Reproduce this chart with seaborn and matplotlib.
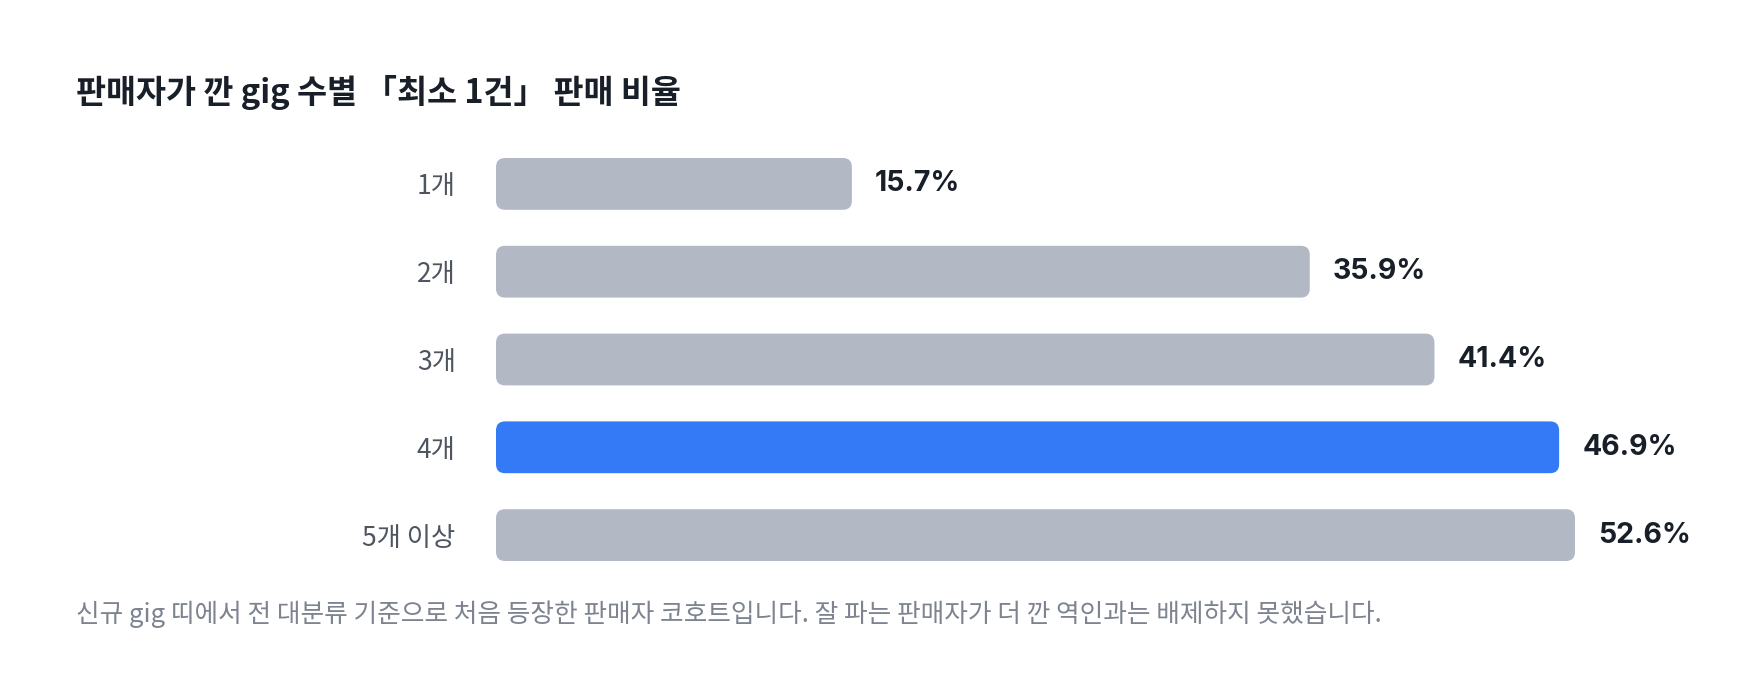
import matplotlib
matplotlib.use("Agg")
import matplotlib.pyplot as plt
from matplotlib.patches import FancyBboxPatch
import seaborn as sns
import pandas as pd

categories = ["1개", "2개", "3개", "4개", "5개 이상"]
values = [15.7, 35.9, 41.4, 46.9, 52.6]
highlight = "4개"
title = "판매자가 깐 gig 수별 「최소 1건」 판매 비율"
footnote = "신규 gig 띠에서 전 대분류 기준으로 처음 등장한 판매자 코호트입니다. 잘 파는 판매자가 더 깐 역인과는 배제하지 못했습니다."
x_max = 47.6  # clamped scale domain

GRAY = "#b2b9c4"
BLUE = "#3479f6"

sns.set_theme(style="white")
plt.rcParams['font.family'] = ['Noto Sans CJK KR', 'DejaVu Sans']

df = pd.DataFrame({"cat": categories, "val": values})
palette = {c: (BLUE if c == highlight else GRAY) for c in categories}

W, H, DPI = 1760, 696, 100
fig = plt.figure(figsize=(W / DPI, H / DPI), dpi=DPI)
fig.patch.set_facecolor("white")
left, right = 496 / W, 1575 / W
top_px, bot_px = 140, 579
ax = fig.add_axes([left, 1 - bot_px / H, right - left, (bot_px - top_px) / H])

sns.barplot(data=df, y="cat", x="val", hue="cat", palette=palette,
            order=categories, orient="h", width=0.59, saturation=1,
            legend=False, ax=ax)
ax.set_xlim(0, x_max)
ax.set_ylim(len(categories) - 0.5, -0.5)

# pixel scales for rounded corners
px_per_x = (ax.transData.transform((1, 0))[0] - ax.transData.transform((0, 0))[0])
px_per_y = abs(ax.transData.transform((0, 1))[1] - ax.transData.transform((0, 0))[1])
radius_px = 9

for p in list(ax.patches):
    x0, y0, w, h = p.get_x(), p.get_y(), p.get_width(), p.get_height()
    w = min(w, x_max)  # clamp like the reference scale
    fc = p.get_facecolor()
    p.remove()
    r = radius_px / px_per_x
    fp = FancyBboxPatch((x0, y0), w, h,
                        boxstyle=f"round,pad=0,rounding_size={r}",
                        mutation_aspect=px_per_x / px_per_y,
                        facecolor=fc, edgecolor="none", clip_on=False)
    ax.add_patch(fp)

for i, (c, v) in enumerate(zip(categories, values)):
    xe = min(v, x_max)
    ax.annotate(f"{v:.1f}%", xy=(xe, i), xytext=(23, 0), textcoords="offset pixels",
                ha="left", va="center", fontsize=20.5, fontweight="bold",
                color="#191f28", family=['Inter', 'Noto Sans CJK KR'])

for s in ax.spines.values():
    s.set_visible(False)
ax.set_xticks([])
ax.set_xlabel("")
ax.set_ylabel("")
ax.tick_params(axis="y", length=0, pad=29, labelsize=19, labelcolor="#4e5560")

fig.text(76 / W, 1 - 93 / H, title, ha="left", va="center",
         fontsize=23.5, fontweight="bold", color="#191f28")
fig.text(76 / W, 1 - 614 / H, footnote, ha="left", va="center",
         fontsize=18.5, color="#7d8490")

fig.savefig("out.png", dpi=DPI, facecolor="white")
